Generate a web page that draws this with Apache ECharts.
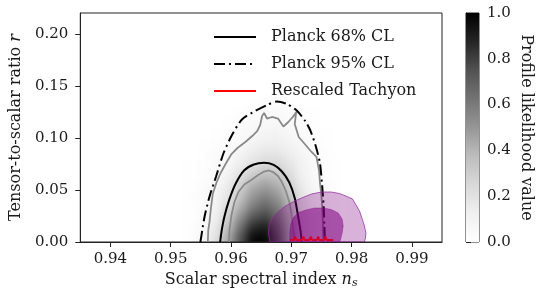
<!DOCTYPE html>
<html><head><meta charset="utf-8">
<script src="https://cdn.jsdelivr.net/npm/echarts@6/dist/echarts.min.js"></script>
<style>
html,body{margin:0;padding:0;background:#fff;width:549px;height:297px;overflow:hidden;}
#clip{position:absolute;left:76px;top:13px;width:366px;height:229px;overflow:hidden;}
#density{position:absolute;left:-76px;top:-13px;width:549px;height:297px;filter:blur(4px);}
#main{position:absolute;left:0;top:0;width:549px;height:297px;}
</style></head><body>
<div id="clip"><div id="density"></div></div>
<div id="main"></div>
<script>
// ---------------- data ----------------
const xTicks = [0.94, 0.95, 0.96, 0.97, 0.98, 0.99];
const yTicks = [0.00, 0.05, 0.10, 0.15, 0.20];
const cbTicks = [0.0, 0.2, 0.4, 0.6, 0.8, 1.0];
const greysColors = ['#ffffff','#f0f0f0','#d9d9d9','#bdbdbd','#969696','#737373','#525252','#252525','#000000'];

// profile likelihood grid (cell centres)
const densityNs = [0.952,0.954,0.956,0.958,0.960,0.962,0.964,0.966,0.968,0.970,0.972,0.974,0.976,0.978];
const densityR  = [0.005,0.015,0.025,0.035,0.045,0.055,0.065,0.075,0.085,0.095,0.105,0.115,0.125,0.135];
const densityZ = [
  [0.00,0.02,0.08,0.21,0.45,0.75,0.97,0.98,0.80,0.50,0.24,0.09,0.03,0.01],
  [0.00,0.02,0.06,0.17,0.37,0.64,0.86,0.90,0.75,0.49,0.24,0.09,0.03,0.01],
  [0.00,0.01,0.05,0.13,0.30,0.53,0.73,0.79,0.67,0.45,0.23,0.09,0.03,0.01],
  [0.00,0.01,0.04,0.11,0.23,0.42,0.59,0.67,0.59,0.41,0.22,0.09,0.04,0.01],
  [0.00,0.02,0.04,0.09,0.19,0.35,0.50,0.57,0.50,0.35,0.19,0.08,0.04,0.02],
  [0.00,0.01,0.03,0.07,0.15,0.29,0.42,0.47,0.42,0.29,0.15,0.07,0.03,0.01],
  [0.00,0.01,0.02,0.05,0.11,0.21,0.31,0.37,0.34,0.24,0.12,0.05,0.02,0.01],
  [0.00,0.01,0.02,0.04,0.07,0.14,0.21,0.26,0.26,0.19,0.11,0.05,0.02,0.01],
  [0.00,0.00,0.01,0.03,0.05,0.10,0.15,0.19,0.19,0.14,0.08,0.04,0.02,0.00],
  [0.00,0.00,0.01,0.02,0.03,0.06,0.10,0.13,0.13,0.10,0.06,0.03,0.01,0.00],
  [0.00,0.00,0.00,0.01,0.02,0.04,0.07,0.09,0.10,0.07,0.04,0.02,0.01,0.00],
  [0.00,0.00,0.00,0.00,0.01,0.03,0.05,0.06,0.07,0.05,0.03,0.01,0.00,0.00],
  [0.00,0.00,0.00,0.00,0.00,0.02,0.03,0.04,0.045,0.03,0.02,0.01,0.00,0.00],
  [0.00,0.00,0.00,0.00,0.00,0.00,0.01,0.02,0.02,0.01,0.00,0.00,0.00,0.00]
];

// Planck 95% CL contour
const planck95Ns = [0.95492,0.95524,0.95561,0.95643,0.95751,0.95877,0.96025,0.96189,0.96402,0.96598,0.96762,0.96926,0.97090,0.97230,0.97320,0.97410,0.97475,0.97508,0.97536,0.97549,0.97557];
const planck95R  = [0.0000,0.0115,0.0243,0.0435,0.0627,0.0855,0.1038,0.1182,0.1259,0.1316,0.1350,0.1326,0.1263,0.1162,0.1066,0.0913,0.0759,0.0567,0.0355,0.0163,0.0000];

// Planck 68% CL contour
const planck68Ns = [0.95820,0.95844,0.95893,0.95970,0.96074,0.96216,0.96380,0.96549,0.96708,0.96844,0.96967,0.97057,0.97115,0.97156,0.97172];
const planck68R  = [0.0000,0.0106,0.0250,0.0404,0.0557,0.0687,0.0745,0.0761,0.0740,0.0677,0.0572,0.0423,0.0240,0.0096,0.0000];

// profile likelihood contours (grey)
const grayOuterNs = [0.95615,0.95623,0.95643,0.95669,0.95697,0.95762,0.95828,0.95910,0.96008,0.96107,0.96238,0.96352,0.96434,0.96484,0.96516,0.96549,0.96598,0.96680,0.96779,0.96869,0.96951,0.97033,0.97082,0.97057,0.97123,0.97238,0.97336,0.97418,0.97459,0.97475,0.97500,0.97516,0.97525,0.97533];
const grayOuterR  = [0.0000,0.0115,0.0192,0.0336,0.0461,0.0576,0.0663,0.0749,0.0845,0.0903,0.0961,0.1018,0.1066,0.1124,0.1211,0.1239,0.1186,0.1201,0.1186,0.1110,0.1153,0.1206,0.1249,0.1134,0.1009,0.0932,0.0865,0.0817,0.0692,0.0576,0.0442,0.0307,0.0163,0.0000];
const grayInnerNs = [0.95967,0.95975,0.96008,0.96057,0.96123,0.96221,0.96336,0.96451,0.96549,0.96631,0.96697,0.96779,0.96844,0.96910,0.96967,0.97000,0.97025,0.97057];
const grayInnerR  = [0.0000,0.0115,0.0259,0.0384,0.0480,0.0552,0.0596,0.0644,0.0677,0.0687,0.0672,0.0634,0.0576,0.0490,0.0384,0.0279,0.0154,0.0000];

// Rescaled Tachyon regions
const tachyonOuterNs = [0.96648,0.96623,0.96631,0.96680,0.96779,0.96893,0.97041,0.97172,0.97336,0.97500,0.97664,0.97795,0.97926,0.98016,0.98074,0.98131,0.98180,0.98213,0.98238,0.98230,0.98213];
const tachyonOuterR  = [0.0000,0.0077,0.0154,0.0221,0.0288,0.0341,0.0389,0.0423,0.0461,0.0480,0.0480,0.0466,0.0437,0.0413,0.0355,0.0298,0.0216,0.0154,0.0086,0.0038,0.0000];
const tachyonInnerNs = [0.96975,0.96975,0.96992,0.97041,0.97123,0.97238,0.97385,0.97533,0.97664,0.97779,0.97844,0.97861,0.97844,0.97820,0.97803];
const tachyonInnerR  = [0.0000,0.0096,0.0173,0.0240,0.0283,0.0307,0.0327,0.0327,0.0312,0.0279,0.0221,0.0154,0.0086,0.0029,0.0000];
const tachyonLineNs = [0.96975,0.97041,0.97062,0.97084,0.97179,0.97200,0.97221,0.97303,0.97325,0.97346,0.97425,0.97446,0.97467,0.97544,0.97566,0.97587,0.97697];
const tachyonLineR  = [0.0019,0.0019,0.0053,0.0019,0.0019,0.0053,0.0019,0.0019,0.0053,0.0019,0.0019,0.0053,0.0019,0.0019,0.0053,0.0019,0.0019];

// ---------------- helpers ----------------
const zip = (a, b) => a.map((v, i) => [v, b[i]]);
const FONT = 'DejaVu Serif';
const TXT = '#1a1a1a';
const AX = '#222';
const GRID = {left: 76, top: 13, width: 366, height: 229};
const X_RANGE = {min: 0.935, max: 0.995};
const Y_RANGE = {min: 0, max: 0.22};

// ---------------- density layer ----------------
const cells = [];
densityR.forEach((r, i) => densityNs.forEach((n, j) => cells.push([n, r, densityZ[i][j]])));
const cellW = densityNs[1] - densityNs[0];
const cellH = densityR[1] - densityR[0];
const dChart = echarts.init(document.getElementById('density'));
dChart.setOption({
  animation: false,
  grid: GRID,
  xAxis: Object.assign({type: 'value', show: false}, X_RANGE),
  yAxis: Object.assign({type: 'value', show: false}, Y_RANGE),
  visualMap: {show: false, min: 0, max: 1, dimension: 2, seriesIndex: 0, inRange: {color: greysColors}},
  series: [{
    type: 'custom', data: cells, clip: false,
    renderItem: (params, api) => {
      const c = api.coord([api.value(0), api.value(1)]);
      const s = api.size([cellW, cellH]);
      let h = s[1] + 1;
      if (api.value(1) === densityR[0]) h += 12;
      return {type: 'rect', shape: {x: c[0] - s[0] / 2, y: c[1] - s[1] / 2, width: s[0] + 1, height: h},
              style: {fill: api.visual('color')}};
    }
  }]
});

// ---------------- main chart ----------------
const polySeries = (nsArr, rArr, fill, stroke) => ({
  type: 'custom', xAxisIndex: 0, yAxisIndex: 0, data: zip(nsArr, rArr), clip: true,
  renderItem: (params, api) => {
    if (params.dataIndex !== 0) return null;
    return {type: 'polygon', shape: {points: zip(nsArr, rArr).map(p => api.coord(p))},
            style: {fill: fill, stroke: stroke, lineWidth: 1}};
  }
});

const chart = echarts.init(document.getElementById('main'));
chart.setOption({
  animation: false,
  backgroundColor: 'transparent',
  textStyle: {fontFamily: FONT},
  grid: [
    Object.assign({show: true, borderColor: AX, borderWidth: 1, backgroundColor: 'transparent'}, GRID),
    {left: 466, top: 13, width: 13, height: 229, show: true, borderColor: AX, borderWidth: 1}
  ],
  xAxis: [
    Object.assign({
      type: 'value', gridIndex: 0,
      axisLine: {show: true, onZero: false, lineStyle: {color: AX}},
      axisTick: {show: true, inside: false, length: 5, customValues: xTicks, lineStyle: {color: AX}},
      axisLabel: {customValues: xTicks, formatter: v => v.toFixed(2), margin: 10, fontSize: 15, color: TXT, fontFamily: FONT},
      splitLine: {show: false},
      name: 'Scalar spectral index {i|n}{s|s}', nameLocation: 'middle', nameGap: 28,
      nameTextStyle: {fontFamily: FONT, fontSize: 16, color: TXT,
        rich: {i: {fontFamily: FONT, fontStyle: 'italic', fontSize: 16, color: TXT},
               s: {fontFamily: FONT, fontStyle: 'italic', fontSize: 11, color: TXT, padding: [7, 0, 0, 0]}}}
    }, X_RANGE),
    {type: 'value', gridIndex: 1, min: 0, max: 1, show: false}
  ],
  yAxis: [
    Object.assign({
      type: 'value', gridIndex: 0,
      axisLine: {show: true, onZero: false, lineStyle: {color: AX}},
      axisTick: {show: true, inside: false, length: 5, customValues: yTicks, lineStyle: {color: AX}},
      axisLabel: {customValues: yTicks, formatter: v => v.toFixed(2), margin: 12, fontSize: 15, color: TXT, fontFamily: FONT},
      splitLine: {show: false},
      name: 'Tensor-to-scalar ratio {i|r}', nameLocation: 'middle', nameGap: 52,
      nameTextStyle: {fontFamily: FONT, fontSize: 16, color: TXT,
        rich: {i: {fontFamily: FONT, fontStyle: 'italic', fontSize: 16, color: TXT}}}
    }, Y_RANGE),
    {
      type: 'value', gridIndex: 1, position: 'right', min: 0, max: 1,
      axisLine: {show: true, lineStyle: {color: AX}},
      axisTick: {show: true, inside: false, length: 5, customValues: cbTicks, lineStyle: {color: AX}},
      axisLabel: {customValues: cbTicks, formatter: v => v.toFixed(1), margin: 8, fontSize: 15, color: TXT, fontFamily: FONT},
      splitLine: {show: false},
      name: 'Profile likelihood value', nameLocation: 'middle', nameRotate: -90, nameGap: 39,
      nameTextStyle: {fontFamily: FONT, fontSize: 16, color: TXT}
    }
  ],
  legend: {
    orient: 'vertical', left: 213, top: 28, padding: 0, itemWidth: 42, itemHeight: 14, itemGap: 9,
    itemStyle: {opacity: 0},
    data: ['Planck 68% CL', 'Planck 95% CL', 'Rescaled Tachyon'],
    textStyle: {fontFamily: FONT, fontSize: 16, color: TXT, lineHeight: 18, padding: [0, 0, 0, 10]}
  },
  series: [
    // colourbar
    {
      type: 'custom', xAxisIndex: 1, yAxisIndex: 1, data: [[0, 0]],
      renderItem: (params, api) => {
        const p0 = api.coord([0, 0]), p1 = api.coord([1, 1]);
        return {type: 'rect', shape: {x: p0[0], y: p1[1], width: p1[0] - p0[0], height: p0[1] - p1[1]},
          style: {fill: {type: 'linear', x: 0, y: 1, x2: 0, y2: 0,
            colorStops: greysColors.map((c, i) => ({offset: i / (greysColors.length - 1), color: c}))}}};
      }
    },
    {type: 'line', name: 'likelihood outer', data: zip(grayOuterNs, grayOuterR), symbol: 'none',
     lineStyle: {color: '#8a8a8a', width: 1.8}, z: 3},
    {type: 'line', name: 'likelihood inner', data: zip(grayInnerNs, grayInnerR), symbol: 'none',
     lineStyle: {color: '#8a8a8a', width: 1.8}, z: 3},
    {type: 'line', name: 'Planck 68% CL', data: zip(planck68Ns, planck68R), symbol: 'none', smooth: 0.25,
     lineStyle: {color: '#000', width: 2}, itemStyle: {color: '#000'}, z: 4},
    {type: 'line', name: 'Planck 95% CL', data: zip(planck95Ns, planck95R), symbol: 'none', smooth: 0.25,
     lineStyle: {color: '#000', width: 2, type: [11, 4, 2, 4]}, itemStyle: {color: '#000'}, z: 4},
    Object.assign(polySeries(tachyonInnerNs, tachyonInnerR, 'rgba(128,0,128,0.55)', 'rgba(128,0,128,0.35)'), {z: 5}),
    {type: 'line', name: 'Rescaled Tachyon', data: zip(tachyonLineNs, tachyonLineR), symbol: 'none',
     lineStyle: {color: '#ff0000', width: 2}, itemStyle: {color: '#ff0000'}, z: 6},
    Object.assign(polySeries(tachyonOuterNs, tachyonOuterR, 'rgba(128,0,128,0.3)', 'rgba(150,40,160,0.75)'), {z: 7})
  ]
});
</script>
</body></html>
